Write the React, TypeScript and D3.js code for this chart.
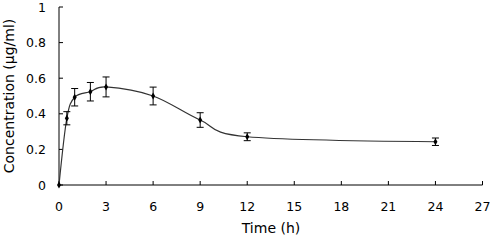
import React from "react";
import * as d3 from "d3";

const time = [0, 0.5, 1, 2, 3, 6, 9, 12, 24];
const conc = [0, 0.375, 0.493, 0.524, 0.551, 0.5, 0.365, 0.271, 0.243];
const sd = [0, 0.037, 0.049, 0.052, 0.056, 0.05, 0.041, 0.022, 0.021];
const xTicks = [0, 3, 6, 9, 12, 15, 18, 21, 24, 27];
const yTicks = [0, 0.2, 0.4, 0.6, 0.8, 1];
const yTickLabels = ["0", "0.2", "0.4", "0.6", "0.8", "1"];
const xTitle = "Time (h)";
const yTitle = "Concentration (µg/ml)";

export default function App() {
  const W = 500, H = 240;
  const x = d3.scaleLinear().domain([0, 27]).range([59, 482.5]);
  const y = d3.scaleLinear().domain([0, 1]).range([185, 7]);
  const pts = time.map((t, i) => [x(t), y(conc[i])] as [number, number]);
  const line = d3.line().curve(d3.curveCardinal.tension(0))(pts) || "";
  const font = "'DejaVu Sans', Verdana, sans-serif";
  return (
    <svg width={W} height={H} style={{ position: "absolute", left: 0, top: 0, background: "#fff" }}
      fontFamily={font}>
      {/* axes */}
      <line x1={x(0)} x2={x(0)} y1={y(0)} y2={y(1)} stroke="#000" strokeWidth={1} />
      <line x1={x(0)} x2={x(27)} y1={y(0)} y2={y(0)} stroke="#000" strokeWidth={1} />
      {yTicks.map((v, i) => (
        <g key={"y" + i}>
          <line x1={x(0)} x2={x(0) + 4} y1={y(v)} y2={y(v)} stroke="#000" />
          <text x={46} y={y(v)} dy="0.36em" textAnchor="end" fontSize={12.5} fill="#000">{yTickLabels[i]}</text>
        </g>
      ))}
      {xTicks.map((v, i) => (
        <g key={"x" + i}>
          <line x1={x(v)} x2={x(v)} y1={y(0)} y2={y(0) - 4} stroke="#000" />
          <text x={x(v)} y={211} textAnchor="middle" fontSize={12.5} fill="#000">{v}</text>
        </g>
      ))}
      <text x={271} y={233} textAnchor="middle" fontSize={14} fill="#000">{xTitle}</text>
      <text transform={`translate(14,96) rotate(-90)`} textAnchor="middle" fontSize={14} fill="#000">{yTitle}</text>
      {/* curve */}
      <path d={line} fill="none" stroke="#333" strokeWidth={1.2} />
      {/* error bars */}
      {time.map((t, i) => sd[i] > 0 ? (
        <g key={"e" + i} stroke="#000" strokeWidth={1}>
          <line x1={x(t)} x2={x(t)} y1={y(conc[i] - sd[i])} y2={y(conc[i] + sd[i])} />
          <line x1={x(t) - 3.5} x2={x(t) + 3.5} y1={y(conc[i] - sd[i])} y2={y(conc[i] - sd[i])} />
          <line x1={x(t) - 3.5} x2={x(t) + 3.5} y1={y(conc[i] + sd[i])} y2={y(conc[i] + sd[i])} />
        </g>
      ) : null)}
      {/* markers */}
      {time.map((t, i) => (
        <path key={"m" + i} d={d3.symbol(d3.symbolDiamond, 14)() || ""}
          transform={`translate(${x(t)},${y(conc[i])})`} fill="#000" />
      ))}
    </svg>
  );
}
